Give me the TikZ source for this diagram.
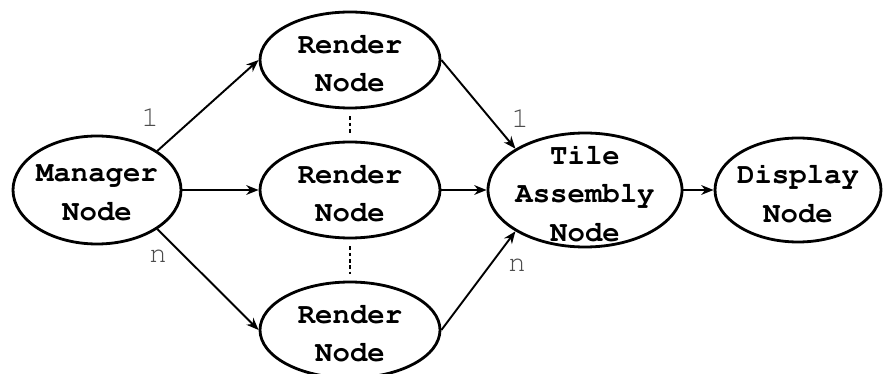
\documentclass[tikz,border=0pt]{standalone}
\usepackage[T1]{fontenc}
\usepackage{courier}
\usetikzlibrary{shapes.geometric,arrows.meta}

\tikzset{
  unit/.style={draw, ellipse, line width=1.6pt, inner sep=0pt},
  nodetext/.style={align=center, yshift=-2pt, font=\fontsize{16.5}{22}\selectfont\ttfamily\bfseries},
  conn/.style={line width=1.1pt, -{Stealth[length=7pt,width=5.5pt,inset=2.2pt]}},
  lab/.style={text=black!70, font=\fontsize{16.5}{20}\selectfont\ttfamily},
  dots/.style={line width=0.7pt, dash pattern=on 2pt off 1.6pt, shorten <=4pt, shorten >=4pt}
}

\begin{document}
\begin{tikzpicture}[x=0.02cm, y=-0.02cm]
            \useasboundingbox (0,0) rectangle (884,374);

            \node[unit, minimum width=168*0.02cm, minimum height=108*0.02cm,
              label={[nodetext]center:Manager\\Node}] (mgr) at (97,190) {};
            \node[unit, minimum width=180*0.02cm, minimum height=96*0.02cm,
              label={[nodetext]center:Render\\Node}] (ren1) at (350,60) {};
            \node[unit, minimum width=180*0.02cm, minimum height=96*0.02cm,
              label={[nodetext]center:Render\\Node}] (ren2) at (350,190) {};
            \node[unit, minimum width=180*0.02cm, minimum height=96*0.02cm,
              label={[nodetext]center:Render\\Node}] (ren3) at (350,330) {};
            \node[unit, minimum width=194*0.02cm, minimum height=114*0.02cm,
              label={[nodetext]center:Tile\\Assembly\\Node}] (tile) at (585,190) {};
            \node[unit, minimum width=166*0.02cm, minimum height=104*0.02cm,
              label={[nodetext]center:Display\\Node}] (disp) at (798,190) {};

            \draw[conn] (mgr.north east) -- (ren1.west);
            \draw[conn] (mgr.east) -- (ren2.west);
            \draw[conn] (mgr.south east) -- (ren3.west);
            \draw[conn] (ren1.east) -- (tile.north west);
            \draw[conn] (ren2.east) -- (tile.west);
            \draw[conn] (ren3.east) -- (tile.south west);
            \draw[conn] (tile.east) -- (disp.west);

            \draw[dots] (ren1.south) -- (ren2.north);
            \draw[dots] (ren2.south) -- (ren3.north);

            \node[lab] (one1) at (150,117) {1};
            \node[lab] (enn1) at (158,256) {n};
            \node[lab] (one2) at (520,118) {1};
            \node[lab] (enn2) at (517,265) {n};
        \end{tikzpicture}
\end{document}
